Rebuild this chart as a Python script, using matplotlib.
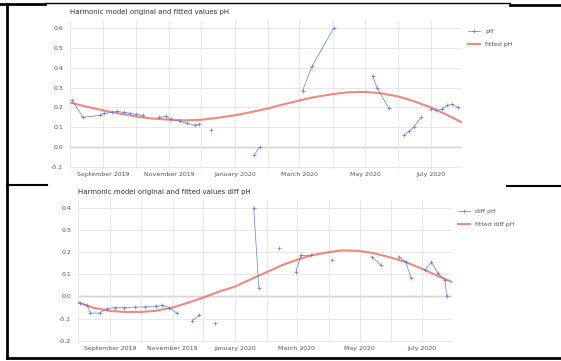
import numpy as np
import pandas as pd
import matplotlib
matplotlib.use('Agg')
import matplotlib.pyplot as plt
import matplotlib.dates as mdates
from matplotlib.lines import Line2D

# fitted harmonic values, read every half month
fit_dates = ['2019-08-01', '2019-08-15', '2019-09-01', '2019-09-15', '2019-10-01', '2019-10-15',
             '2019-11-01', '2019-11-15', '2019-12-01', '2019-12-15', '2020-01-01', '2020-01-15',
             '2020-02-01', '2020-02-15', '2020-03-01', '2020-03-15', '2020-04-01', '2020-04-15',
             '2020-05-01', '2020-05-15', '2020-06-01', '2020-06-15', '2020-07-01', '2020-07-15',
             '2020-07-30']
ph_fitted = [0.225, 0.205, 0.185, 0.17, 0.155, 0.145, 0.138, 0.135, 0.138, 0.147, 0.16, 0.175,
             0.195, 0.215, 0.235, 0.252, 0.267, 0.276, 0.278, 0.272, 0.255, 0.232, 0.2, 0.165,
             0.125]
diff_fitted = [-0.027, -0.05, -0.065, -0.07, -0.07, -0.065, -0.05, -0.03, -0.005, 0.02, 0.045,
               0.075, 0.11, 0.14, 0.165, 0.185, 0.2, 0.208, 0.205, 0.195, 0.175, 0.155, 0.125,
               0.095, 0.065]

# observed values, NaN breaks the line
ph_dates = ['2019-08-03', '2019-08-13', '2019-08-29', '2019-09-02', '2019-09-09', '2019-09-14',
            '2019-09-20', '2019-09-26', '2019-10-01', '2019-10-08', '2019-10-15', '2019-10-23',
            '2019-10-29', '2019-11-03', '2019-11-11', '2019-11-18', '2019-11-25', '2019-11-29',
            '2019-12-05', '2019-12-10', '2019-12-20', '2020-01-19', '2020-01-24', '2020-02-10',
            '2020-03-04', '2020-03-13', '2020-04-02', '2020-04-20', '2020-05-08', '2020-05-12',
            '2020-05-23', '2020-05-30', '2020-06-06', '2020-06-11', '2020-06-15', '2020-06-22',
            '2020-06-26', '2020-07-01', '2020-07-06', '2020-07-11', '2020-07-16', '2020-07-21',
            '2020-07-26']
ph_values = [0.235, 0.15, 0.16, 0.17, 0.175, 0.18, 0.175, 0.17, 0.165, 0.16, np.nan, 0.15,
             0.155, 0.14, 0.13, 0.12, 0.11, 0.115, np.nan, 0.085, np.nan, -0.04, 0.0, np.nan,
             0.285, 0.41, 0.6, np.nan, 0.36, 0.3, 0.195, np.nan, 0.06, 0.08, 0.1, 0.15, np.nan,
             0.19, 0.185, 0.19, 0.21, 0.215, 0.2]

diff_dates = ['2019-08-03', '2019-08-10', '2019-08-13', '2019-08-22', '2019-08-29', '2019-09-06',
              '2019-09-15', '2019-09-25', '2019-10-05', '2019-10-16', '2019-10-22', '2019-10-29',
              '2019-11-05', '2019-11-12', '2019-11-20', '2019-11-27', '2019-12-05', '2019-12-12',
              '2020-01-01', '2020-01-19', '2020-01-24', '2020-02-05', '2020-02-13', '2020-02-20',
              '2020-02-29', '2020-03-05', '2020-03-15', '2020-03-25', '2020-04-04', '2020-04-20',
              '2020-05-13', '2020-05-22', '2020-06-01', '2020-06-08', '2020-06-15', '2020-06-20',
              '2020-06-27', '2020-07-04', '2020-07-10', '2020-07-16', '2020-07-23', '2020-07-25']
diff_values = [-0.03, -0.04, -0.075, -0.075, -0.055, -0.05, -0.05, -0.048, -0.047, -0.045, -0.04,
               -0.05, -0.075, np.nan, -0.11, -0.085, np.nan, -0.12, np.nan, 0.4, 0.04, np.nan,
               0.22, np.nan, 0.11, 0.185, 0.185, np.nan, 0.165, np.nan, 0.18, 0.14, np.nan,
               0.18, 0.155, 0.085, np.nan, 0.12, 0.155, 0.105, 0.075, 0.0]

ph_ticks = [-0.1, 0.0, 0.1, 0.2, 0.3, 0.4, 0.5, 0.6]
diff_ticks = [-0.2, -0.1, 0.0, 0.1, 0.2, 0.3, 0.4]

TEXT = '#555555'
GRID = '#e4e4e4'


def style_axis(ax, ticks, ylim):
    ax.set_xlim(pd.Timestamp('2019-08-01'), pd.Timestamp('2020-07-30'))
    ax.set_ylim(*ylim)
    ax.set_yticks(ticks)
    ax.set_yticklabels([f'{t:.1f}' for t in ticks])
    ax.xaxis.set_major_locator(mdates.MonthLocator(bymonth=[1, 3, 5, 7, 9, 11]))
    ax.xaxis.set_major_formatter(mdates.DateFormatter('%B %Y'))
    ax.xaxis.set_minor_locator(mdates.MonthLocator())
    ax.grid(True, which='both', axis='x', color=GRID, lw=0.6)
    ax.grid(True, which='major', axis='y', color=GRID, lw=0.6)
    ax.tick_params(which='both', length=0, labelsize=4.5, labelcolor=TEXT)
    ax.tick_params(axis='x', pad=2)
    ax.tick_params(axis='y', pad=5)
    for s in ax.spines.values():
        s.set_visible(False)
    ax.axhline(0, color='#8a8a8a', lw=0.9, zorder=1)


def draw_panel(ax, obs_dates, obs_values, fitted, name, title, ticks, ylim):
    ax.plot(pd.to_datetime(fit_dates), fitted, color='#ee6a5c', lw=1.5, alpha=0.8,
            label='fitted ' + name, zorder=2)
    ax.plot(pd.to_datetime(obs_dates), obs_values, color='#5a7ee0', lw=0.5, marker='+',
            markersize=2.5, markeredgewidth=0.5, label=name, zorder=3)
    style_axis(ax, ticks, ylim)
    ax.set_title(title, loc='left', fontsize=5, color='#333333', pad=4)
    handles, labels = ax.get_legend_handles_labels()
    ax.legend(handles[::-1], labels[::-1], loc='upper left', bbox_to_anchor=(1.0, 0.98),
              frameon=False, fontsize=4.5, labelcolor=TEXT, handlelength=2, labelspacing=1.3)


fig = plt.figure(figsize=(5.61, 3.61), dpi=100)
W, H = 561, 361

ax1 = fig.add_axes([70 / W, 1 - 169 / H, 392 / W, 149 / H])
draw_panel(ax1, ph_dates, ph_values, ph_fitted, 'pH',
           'Harmonic model original and fitted values pH', ph_ticks, (-0.11, 0.64))

ax2 = fig.add_axes([78 / W, 1 - 343 / H, 374 / W, 143 / H])
draw_panel(ax2, diff_dates, diff_values, diff_fitted, 'diff pH',
           'Harmonic model original and fitted values diff pH', diff_ticks, (-0.21, 0.435))

# frame lines from the original screenshot
frame = [((7, 4), (7, 358), 2.0), ((0, 4), (45, 4), 2.0), ((45, 3), (510, 3), 1.0),
         ((510, 5), (561, 5), 2.0), ((7, 185), (47, 185), 1.5), ((507, 186), (561, 186), 1.5),
         ((7, 358), (561, 358), 2.0)]
for (x0, y0), (x1, y1), lw in frame:
    fig.add_artist(Line2D([x0 / W, x1 / W], [1 - y0 / H, 1 - y1 / H], transform=fig.transFigure,
                          color='black', lw=lw))

fig.savefig('out.png', dpi=100)
